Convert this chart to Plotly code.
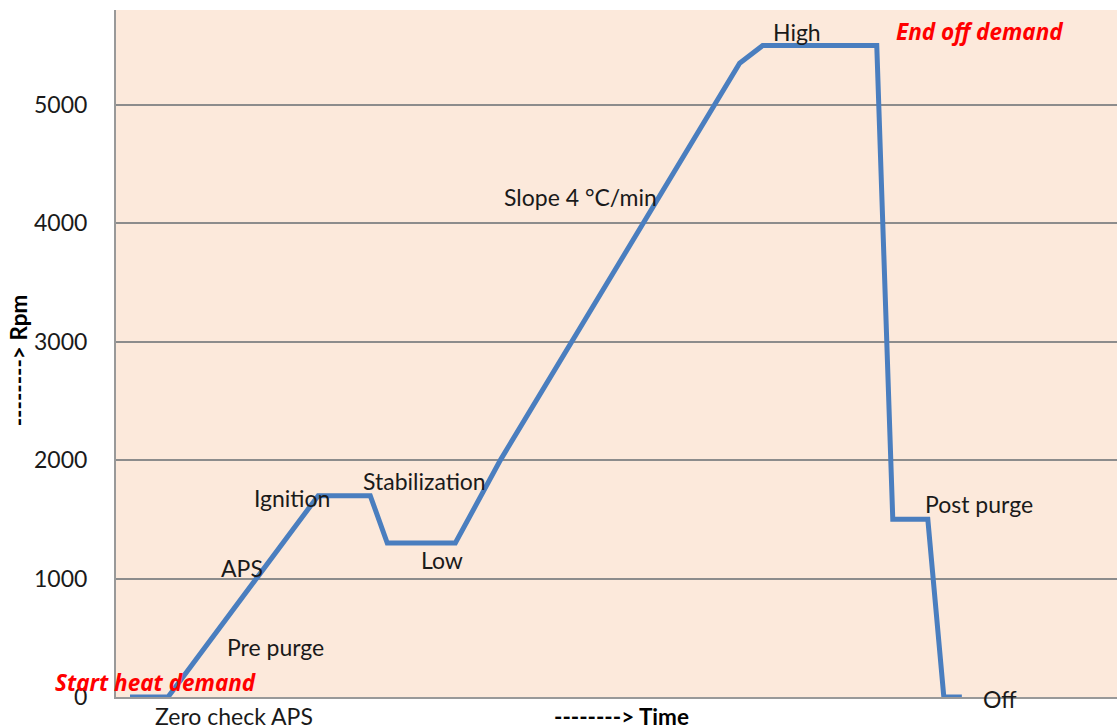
import plotly.graph_objects as go

# Time (arbitrary units) and fan speed (rpm)
time = [1.4, 5.2, 20.2, 25.4, 27.1, 33.9, 38.4, 62.3, 64.6, 76.0, 77.6, 81.1, 82.7, 84.5]
rpm = [0, 0, 1700, 1700, 1300, 1300, 2000, 5350, 5500, 5500, 1500, 1500, 0, 0]

y_ticks = [0, 1000, 2000, 3000, 4000, 5000]

FONT = "Lato"
TXT = "#1a1a1a"
LBL = 23

fig = go.Figure()
fig.add_trace(go.Scatter(x=time, y=rpm, mode="lines",
                         line=dict(color="#4A7EBF", width=5),
                         hoverinfo="skip", showlegend=False))

labels = [
    ("High", 68.0, 5616),
    ("Slope 4 °C/min", 46.4, 4224),
    ("Stabilization", 30.8, 1821),
    ("Ignition", 17.6, 1678),
    ("Low", 32.6, 1155),
    ("APS", 12.6, 1088),
    ("Pre purge", 15.9, 422),
    ("Post purge", 86.2, 1627),
]
for text, x, y in labels:
    fig.add_annotation(x=x, y=y, xref="x", yref="y", text=text, showarrow=False,
                       font=dict(family=FONT, size=LBL, color=TXT),
                       xanchor="center", yanchor="middle")

red_labels = [
    ("<b><i>End off demand</i></b>", 86.3, 5616),
    ("<b><i>Start heat demand</i></b>", 3.9, 126),
]
for text, x, y in red_labels:
    fig.add_annotation(x=x, y=y, xref="x", yref="y", text=text, showarrow=False,
                       font=dict(family="Open Sans", size=22.5, color="#FF0000"),
                       xanchor="center", yanchor="middle")

fig.add_annotation(x=88.3, y=-0.003, xref="x", yref="paper", text="Off",
                   showarrow=False, font=dict(family=FONT, size=LBL, color=TXT),
                   xanchor="center", yanchor="middle")
fig.add_annotation(x=11.8, y=-0.0277, xref="x", yref="paper", text="Zero check APS",
                   showarrow=False, font=dict(family=FONT, size=LBL, color=TXT),
                   xanchor="center", yanchor="middle")
fig.add_annotation(x=50.5, y=-0.029, xref="x", yref="paper", text="<b>--------> Time</b>",
                   showarrow=False, font=dict(family=FONT, size=22.5, color="#000000"),
                   xanchor="center", yanchor="middle")
fig.add_annotation(x=-0.098, y=0.49, xref="paper", yref="paper", text="<b>--------> Rpm</b>",
                   textangle=-90, showarrow=False,
                   font=dict(family=FONT, size=22.5, color="#000000"),
                   xanchor="center", yanchor="middle")

fig.update_layout(
    width=1117, height=728,
    margin=dict(l=116, r=0, t=10, b=31),
    paper_bgcolor="white",
    plot_bgcolor="#FCE9DB",
    showlegend=False,
    xaxis=dict(range=[0, 100], showticklabels=False, ticks="", showgrid=False,
               zeroline=False, showline=True, linecolor="#999999", linewidth=2,
               fixedrange=True),
    yaxis=dict(range=[0, 5800], tickvals=y_ticks, ticktext=[str(v) for v in y_ticks],
               tickfont=dict(family=FONT, size=LBL, color=TXT), ticks="",
               ticklabelstandoff=22,
               showgrid=True, gridcolor="#8c8c8c", gridwidth=1.5,
               zeroline=False, showline=True, linecolor="#999999", linewidth=2,
               fixedrange=True),
)

fig.write_html("out.html", config={"displayModeBar": False},
               post_script="document.body.style.margin='0';document.body.style.overflow='hidden';")
